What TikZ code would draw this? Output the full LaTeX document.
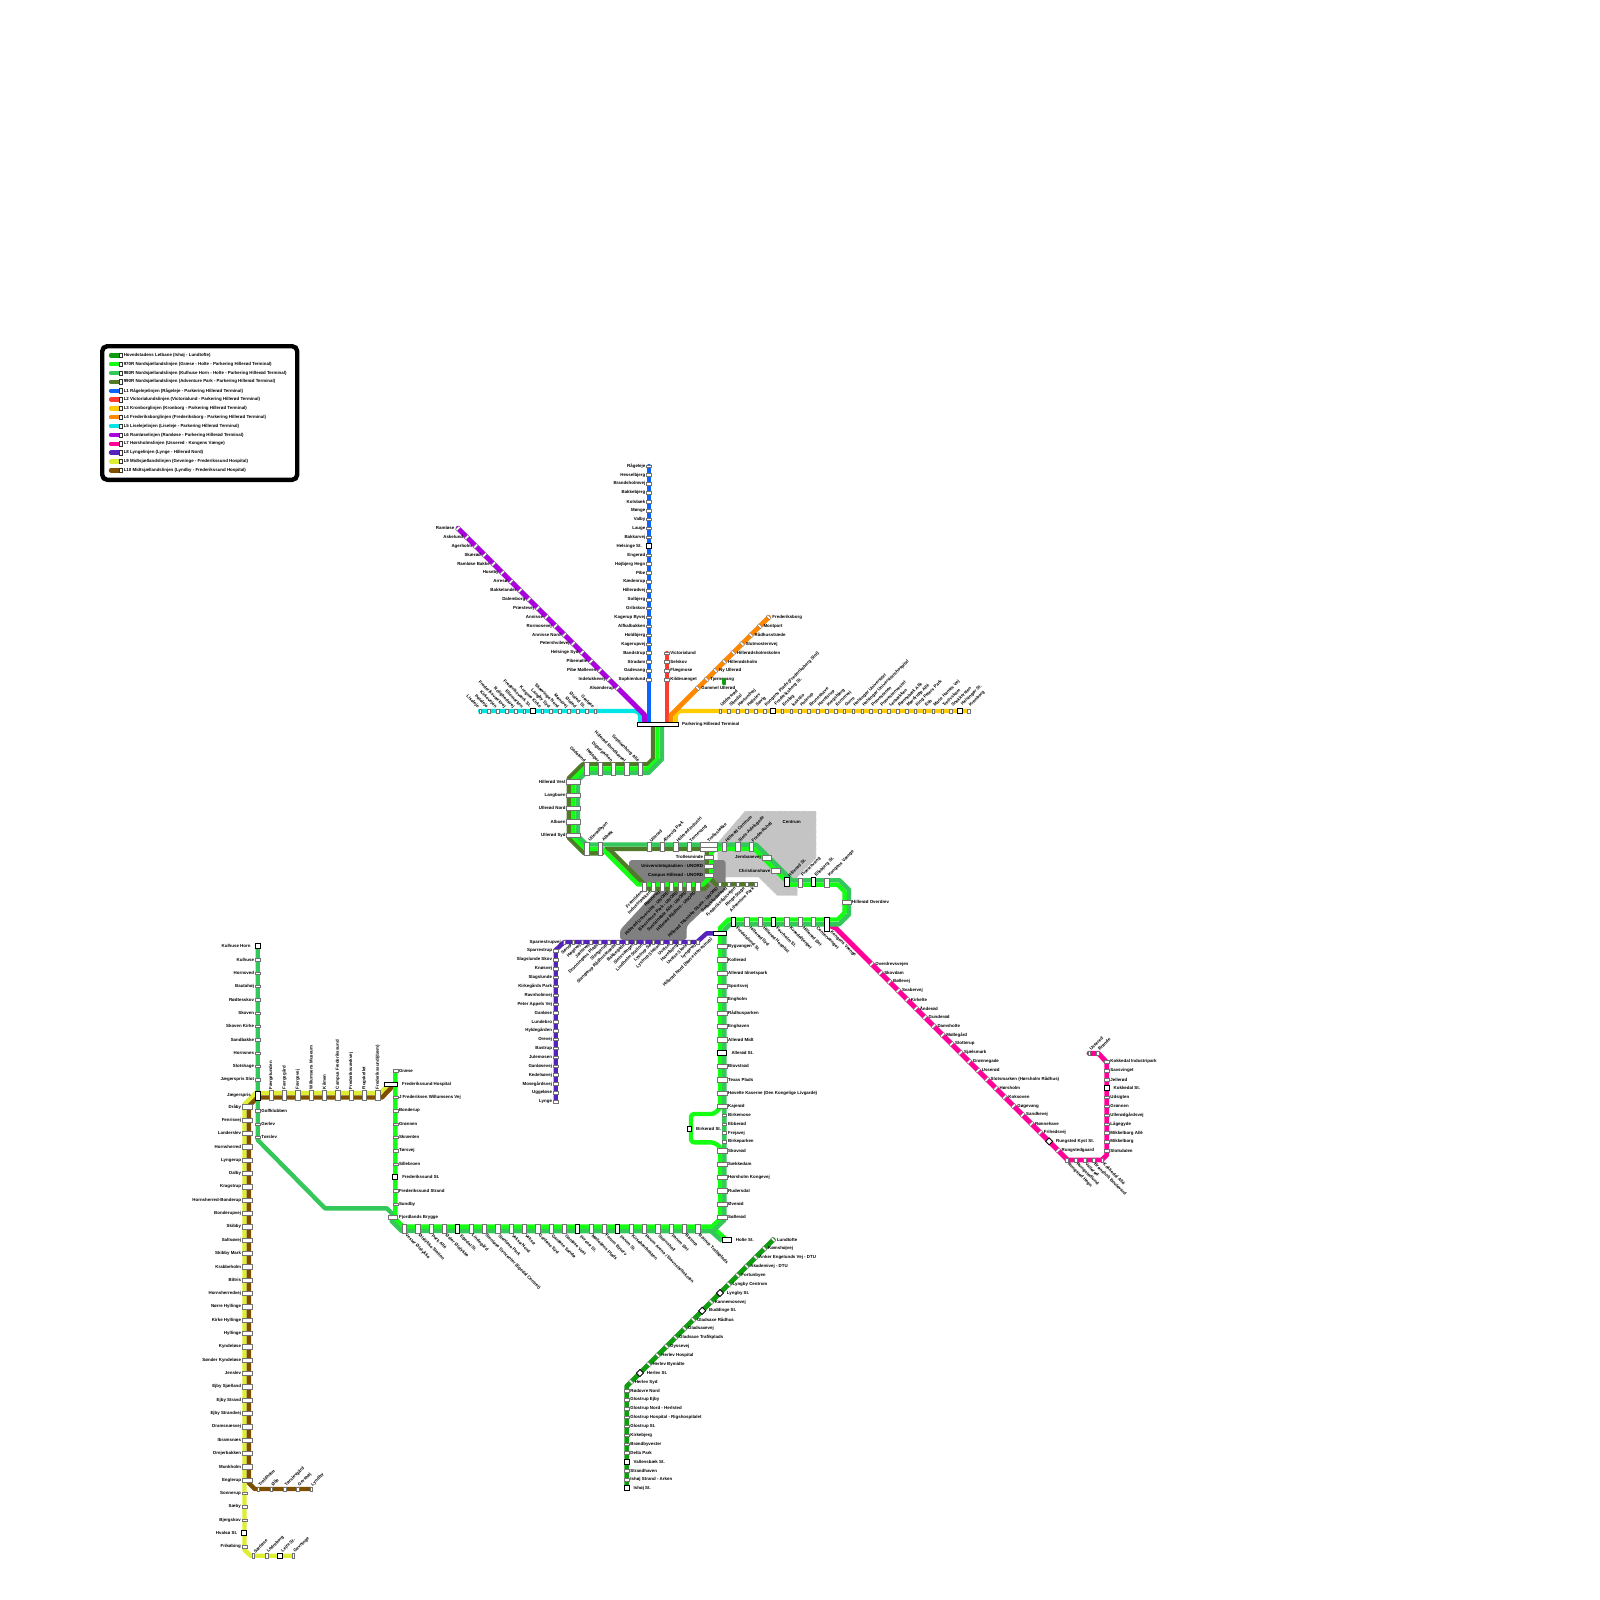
\documentclass[tikz,border=0pt]{standalone}
\usepackage{fontspec}
\setmainfont{Liberation Sans}
\usetikzlibrary{calc}
\definecolor{cLet}{HTML}{0F9D0F}
\definecolor{cBr}{HTML}{14FF14}
\definecolor{cMe}{HTML}{34C759}
\definecolor{cOl}{HTML}{4F7A28}
\definecolor{cLa}{HTML}{0A64FF}
\definecolor{cLb}{HTML}{FF3B30}
\definecolor{cLc}{HTML}{FFCC00}
\definecolor{cLd}{HTML}{FF8800}
\definecolor{cLe}{HTML}{00E5E5}
\definecolor{cLf}{HTML}{AA00DD}
\definecolor{cLg}{HTML}{FF0099}
\definecolor{cLh}{HTML}{5522BB}
\definecolor{cLi}{HTML}{DDEE33}
\definecolor{cLj}{HTML}{7F4F00}
\newcommand{\lbl}{\fontsize{4.4}{5}\selectfont\bfseries}
\newcommand{\rowcfg}[4]{\tikzset{rowstop/.style={#1},rowic/.style={#2},rowlab/.style={#3},rowilab/.style={#4}}}
\makeatletter
\newcommand{\stoprow}[7]{%
 \foreach \nm [count=\ri from 0] in {#7}{%
  \edef\rs@t{\noexpand\in@{,\ri,}{,#6,}}\rs@t
  \ifin@
   \node[icb,rowic] (#1-\ri) at ({#2+\ri*(#4)},{#3+\ri*(#5)}) {};
   \node[lab,rowilab] (#1-\ri-l) at (#1-\ri.center) {\nm};
  \else
   \node[stopb,rowstop] (#1-\ri) at ({#2+\ri*(#4)},{#3+\ri*(#5)}) {};
   \node[lab,rowlab] (#1-\ri-l) at (#1-\ri.center) {\nm};
  \fi}}
\makeatother
\pgfdeclarelayer{greyl}\pgfdeclarelayer{linel}
\pgfsetlayers{greyl,linel,main}
\tikzset{
 stopb/.style={rectangle,draw=black!55,fill=white,line width=.35,inner sep=0},
 icb/.style={rectangle,draw=black,fill=white,line width=.9,inner sep=0},
 lab/.style={font=\lbl,inner sep=0,text=black},
 ln/.style={line width=4.4,line cap=round,line join=round},
 lnd/.style={line width=4.9,line cap=round,line join=round},
 vthin/.style={minimum width=4.8,minimum height=2.5},
 hthin/.style={minimum width=2.6,minimum height=4.6},
 dup/.style={rotate=45,minimum width=4.9,minimum height=2.1},
 ddn/.style={rotate=-45,minimum width=4.9,minimum height=2.1},
 sq/.style={minimum width=5,minimum height=5},
 sqd/.style={rotate=45,minimum width=5,minimum height=5},
 hwide/.style={minimum width=9.4,minimum height=4.4},
 vwide/.style={minimum width=4.4,minimum height=9},
 vtw/.style={minimum width=4.4,minimum height=13.3},
 labL/.style={anchor=east,xshift=-3.5pt},
 labLi/.style={anchor=east,xshift=-7pt},
 labR/.style={anchor=west,xshift=3.5pt},
 labRi/.style={anchor=west,xshift=6.8pt},
 labLw/.style={anchor=east,xshift=-5.7pt},
 labRw/.style={anchor=west,xshift=6pt},
 labRwi/.style={anchor=west,xshift=9.3pt},
}
\begin{document}
\begin{tikzpicture}[x=1pt,y=-1pt]
\useasboundingbox (0,0) rectangle (1600,1600);
\begin{pgfonlayer}{greyl}
\fill[white] (0,0) rectangle (1600,1600);
\end{pgfonlayer}
% legend
\draw[rounded corners=5,line width=4.4,draw=black,fill=white] (102.2,346.2) rectangle (297.2,479.8);
\foreach \c/\t [count=\n from 0] in {cLet/Hovedstadens Letbane (Ishøj - Lundtofte),
cBr/970R Nordsjællandslinjen (Græse - Holte - Parkering Hillerød Terminal),
cMe/980R Nordsjællandslinjen (Kulhuse Horn - Holte - Parkering Hillerød Terminal),
cOl/990R Nordsjællandslinjen (Adventure Park - Parkering Hillerød Terminal),
cLa/L1 Rågelejelinjen (Rågeleje - Parkering Hillerød Terminal),
cLb/L2 Victorialundslinjen (Victorialund - Parkering Hillerød Terminal),
cLc/L3 Kronborglinjen (Kronborg - Parkering Hillerød Terminal),
cLd/L4 Frederiksborglinjen (Frederiksborg - Parkering Hillerød Terminal),
cLe/L5 Liselejelinjen (Liseleje - Parkering Hillerød Terminal),
cLf/L6 Ramløselinjen (Ramløse - Parkering Hillerød Terminal),
cLg/L7 Hørsholmslinjen (Ussered - Kongens Vænge),
cLh/L8 Lyngelinjen (Lynge - Hillerød Nord),
cLi/L9 Midtsjællandslinjen (Gevninge - Frederikssund Hospital),
cLj/L10 Midtsjællandslinjen (Lyndby - Frederikssund Hospital)}{
 \draw[ln,draw=\c] (111,{355.3+\n*8.85}) -- (120,{355.3+\n*8.85});
 \node[stopb,draw=black!80,line width=.5,minimum width=2.8,minimum height=4.4] (lgs-\n) at (120.4,{355.3+\n*8.85}) {};
 \node[lab,anchor=west] (lgt-\n) at (123.6,{355.3+\n*8.85}) {\t};
}
% terminal
\node[icb,line width=.7,minimum width=40.7,minimum height=4.7] (term) at (657.7,724.3) {};
\node[lab,anchor=west] (terml) at (682,724.3) {Parkering Hillerød Terminal};
\coordinate (tA) at (649,724);\coordinate (tB) at (666.7,724);\coordinate (tC) at (675.7,724);
\coordinate (tD) at (671,724);\coordinate (tE) at (640.2,724);\coordinate (tF) at (644.6,724);
\coordinate (tOl) at (653,726);\coordinate (tBr) at (657.5,726);\coordinate (tMe) at (662,726);
% L1
\rowcfg{vthin}{sq}{labL}{labLi}
\stoprow{La}{649}{466}{0}{8.9}{9}{Rågeleje,Hesselbjerg,Brandsholmvej,Bakkebjerg,Kolsbæk,Mønge,Valby,Lauge,Bakkarvej,Helsinge St.,Engerød,Højbjerg Hegn,Pibe,Kædenrup,Hillerødvej,Solbjerg,Gribskov,Kagerup Byvej,Alfkalbakken,Holdbjerg,Kagerupvej,Bandstrup,Stradam,Gadevang,Sophienlund}
% L2
\rowcfg{vthin}{sq}{labR}{labRi}
\stoprow{Lb}{666.7}{653}{0}{8.87}{}{Victorialund,Selskov,Flægmose,Kildesænget}
% L3
\rowcfg{hthin}{sq}{xshift=1pt,yshift=5pt,rotate=45,anchor=west}{xshift=2pt,yshift=6pt,rotate=45,anchor=west}
\stoprow{Lc}{720}{711}{8.88}{0}{6,27}{Uddersrød,Slimdal,Hørlundvej,Hallelev,Søvig,Kongens Plads (Frederiksberg Slot),Frederiksborg St.,Ensløg,Isakslio,Hulerup,Bruneshave,Havelsrup,Kregsbjerg,Esromvej,Gurre,Helsingør Universitet,Helsingør Universitetshospital,Prøvestenen,Prøvestenvestet,Lerbækken,Rønnebæk Allé,Mørdrupp Allé,King Peters Park,Esb,Marie Hansts Vej,Tretlvskam,Snekkersten,Helsingør St.,Kronborg}
% L4
\rowcfg{ddn}{sq}{labR}{labRi}
\stoprow{Ld}{768.7}{617.3}{-8.87}{8.87}{}{Frederiksborg,Montport,Rådhusstræde,Slutmosternvej,Hillerødsholmskolen,Hillerødsholm,Ny Ullerød,Tjørnevang,Gammel Ullerød}
\node[fill=cLet,rounded corners=1,inner sep=0,minimum width=3.6,minimum height=7] (blob) at (724,681.7) {};
% L5
\rowcfg{hthin}{sq}{xshift=-1.5pt,yshift=3.5pt,rotate=-45,anchor=east}{xshift=-2.5pt,yshift=4.5pt,rotate=-45,anchor=east}
\stoprow{Le}{480}{711}{8.87}{0}{6}{Liseleje,Pøleleje,Kirkevejen,Frederiksværkvej,Rolighedsvej,Ellemarken,Frederiksværk St.,Kregme Kirke,Langby Syd,Skævinge Nord,Mønsvej,Ølsted,Ølsted St.,Gørløse}
% L6
\rowcfg{dup}{sq}{labL}{labLi}
\stoprow{Lf}{458}{528.3}{8.87}{8.87}{}{Ramløse,Askelund,Agerholm,Skærød,Ramløse Bakke,Huseby,Arresø,Bakkelandet,Dalemborg,Præstevej,Annisse,Rormosevej,Annisse Nord,Petershvilevej,Helsinge Syd,Pibemølle,Pibe Mølleves,Indelukkevej,Alsønderup}
% trunk
\rowcfg{vtw}{vtw}{xshift=-1.5pt,yshift=7pt,rotate=-45,anchor=east}{xshift=-1.5pt,yshift=7pt,rotate=-45,anchor=east}
\stoprow{Ta}{586.7}{768.6}{13.33}{0}{}{Gadelund,Højager,Digterparken,Hillerød Rundkørsel,Sophienborg Allé}
\rowcfg{minimum width=13.3,minimum height=4.4}{sq}{anchor=east,xshift=-7.5pt}{labLi}
\stoprow{Tb}{573.3}{781.7}{0}{13.33}{}{Hillerød Vest,Langbuen,Ullerød Nord,Albuen,Ullerød Syd}
\rowcfg{vtw}{sq}{xshift=2.5pt,yshift=8pt,rotate=45,anchor=west}{labLi}
\stoprow{Tc}{586.7}{849}{13.33}{0}{}{Ullerødbyen,Albæk}
\rowcfg{minimum width=4.4,minimum height=8.7}{sq}{xshift=1.5pt,yshift=5pt,rotate=45,anchor=west}{labLi}
\stoprow{Td}{649}{846.7}{13.33}{0}{}{Ullerød,Ærtevig Park,Hillerød Industri,Tornevang}
\node[stopb,minimum width=17.7,minimum height=4.4] (tr1) at (708.8,844.5) {};
\node[stopb,minimum width=17.7,minimum height=4.4] (tr2) at (708.8,848.9) {};
\node[lab,xshift=-1pt,yshift=5pt,rotate=45,anchor=west] (trl) at (708.8,846.7) {Trollesløkke};
\stoprow{Te}{724.3}{846.8}{13.33}{0}{}{Hillerød Centrum,Slots-Adelsgade,Frederikshøj}
\rowcfg{minimum width=8.9,minimum height=4.4}{sq}{anchor=east,xshift=-5.7pt}{labLi}
\stoprow{Tf}{709}{857.3}{0}{9}{}{Trollesminde,Universitetspladsen - UNORD,Campus Hillerød - UNORD}
\rowcfg{minimum width=4.4,minimum height=8.7}{sq}{xshift=-2.6pt,yshift=-5pt,rotate=45,anchor=east}{labLi}
\stoprow{Tg}{644.3}{886.7}{8.9}{0}{}{Fremtiden,Industriparken,Rønnevej,Hillerød Universitet - UNORD,Bioscience Park - UNORD,Sustainable Allé - UNORD,Hillerød Rådhus - UNORD}
\rowcfg{minimum width=2.7,minimum height=4.4}{sq}{xshift=-2.5pt,yshift=-3.5pt,rotate=45,anchor=east}{labLi}
\stoprow{Th}{720}{884.3}{8.97}{0}{}{Hillerød Tekniske Skole - UNORD,Solbakkedalsvej,Frederiksdalsvejen,Ringe Stage,Adventure Park}
\node[stopb,minimum width=9.3,minimum height=4.4] (jb) at (766.7,857.7) {};
\node[lab,anchor=east] (jbl) at (761,857.7) {Jernbanevej};
\node[stopb,minimum width=9.3,minimum height=4.4] (ch) at (775.7,870.7) {};
\node[lab,anchor=east] (chl) at (770.5,870.7) {Christianshave};
\rowcfg{vwide}{vwide,line width=.8}{xshift=2pt,yshift=6pt,rotate=45,anchor=west}{xshift=2pt,yshift=6pt,rotate=45,anchor=west}
\stoprow{Ti}{786.7}{882.2}{13.33}{0}{0,2}{Hillerød St.,Præstevang,Ellebjerg St.,Kongens Vænge}
\node[stopb,minimum width=8.9,minimum height=4.4] (ho) at (846.7,902) {};
\node[lab,anchor=west] (hol) at (852,902) {Hillerød Overdrev};
\rowcfg{minimum width=4.4,minimum height=9.3}{minimum width=4.4,minimum height=9.3,line width=.8}{xshift=3.5pt,yshift=-5.5pt,rotate=-45,anchor=west}{xshift=3.5pt,yshift=-5.5pt,rotate=-45,anchor=west}
\stoprow{Tj}{733.3}{922}{13.33}{0}{0,3}{Fredelslund St.,Hillerød Syd,Hillerød Hospital,Favrholm St.,Kvædebjerget,Hillerød Øst,Centervænget}
\node[icb,line width=.8,minimum width=4.4,minimum height=13.7] (kv) at (826.7,924.2) {};
\node[lab,xshift=4pt,yshift=-7pt,rotate=-45,anchor=west] (kvl) at (826.7,924.2) {Kongens Vænge};
\node[icb,line width=.8,minimum width=13.4,minimum height=4.7] (hn) at (720,933.3) {};
\node[lab,rotate=45,anchor=east] (hnl) at (711.7,938.3) {Hillerød Nord (Nørre Herrestrup)};
% column
\rowcfg{hwide}{hwide,line width=.8}{labRw}{labRwi}
\stoprow{Ca}{722}{946.3}{0}{13.33}{8}{Bygvangen,Kollerød,Allerød Idrætspark,Sportsvej,Engholm,Rådhusparken,Enghaven,Allerød Midt,Allerød St.,Blovstrød,Texas Plads,Høvelte Kaserne (Den Kongelige Livgarde),Kajerød}
\rowcfg{minimum width=4.4,minimum height=2.6}{sq}{anchor=west,xshift=3.6pt}{labRi}
\stoprow{Cb}{724.4}{1115.3}{0}{8.8}{}{Birkemose,Ebberød,Frejavej,Birkeparken}
\node[icb,minimum width=4.6,minimum height=4.6] (bk) at (689.5,1128.7) {};
\node[lab,anchor=west] (bkl) at (696,1128.7) {Birkerød St.};
\rowcfg{hwide}{hwide,line width=.8}{labRw}{labRwi}
\stoprow{Cc}{722}{1150.7}{0}{13.33}{}{Skovrød,Sækkedam,Hørsholm Kongevej,Rudersdal,Øverød,Søllerød}
\node[icb,line width=.7,minimum width=9,minimum height=4.4] (holte) at (726.7,1240) {};
\node[lab,anchor=west] (holtel) at (735.7,1240) {Holte St.};
% bottom row
\rowcfg{minimum width=4.4,minimum height=9}{minimum width=4.4,minimum height=9,line width=.8}{xshift=1.5pt,yshift=-6pt,rotate=-45,anchor=west}{xshift=3pt,yshift=-7pt,rotate=-45,anchor=west}
\stoprow{Ro}{404.3}{1228.8}{13.33}{0}{4,13,16}{Vester Ølstykke,Ølstykke Station,Park Allé,Øster Ølstykke,Egedal St.,Lindegård,Stenløse Syncenter (Egedal Centret),Stenløse Park,Veksø Nord,Veksø,Ganløse Syd,Ganløse Sandø,Ganløse Vest,Furesø St.,Mølleåens Plads,Farum Bytorv,Farum St.,Kirsebærbakken,Farum Arena / Stavnsholtskolen,Stavnsholt,Farum Øst,Bistrup,Bistrup Trafikplads}
% Graese
\rowcfg{vthin}{sq}{labR}{labRi}
\stoprow{Gr}{395.3}{1070.7}{0}{13.33}{}{Græse}
\node[icb,minimum width=13.4,minimum height=4.7] (fh) at (391,1084.3) {};
\node[lab,anchor=west] (fhl) at (402,1084.3) {Frederikssund Hospital};
\stoprow{Gs}{395.3}{1097.3}{0}{13.33}{6}{J Frederiksen Willumsens Vej,Bonderup,Grønnen,Skrænten,Tørsvej,Sillebroen,Frederikssund St.,Frederikssund Strand,Sundby}
\node[stopb,minimum width=9,minimum height=4.4] (fb) at (392.7,1217.3) {};
\node[lab,anchor=west] (fbl) at (399,1217.3) {Fjordlands Brygge};
% Kulhuse
\rowcfg{vthin}{sq}{labL}{labLi}
\stoprow{Ku}{257.7}{946.3}{0}{13.33}{0}{Kulhuse Horn,Kulhuse,Hornsved,Bautahøj,Rødtesskov,Skoven,Skoven Kirke,Sandbakke,Hornsnes,Slotshage,Jægerspris Slot}
\node[icb,minimum width=4.4,minimum height=8.4] (jp) at (257.8,1095.8) {};
\node[lab,anchor=east] (jpl) at (251,1095.8) {Jægerspris};
\rowcfg{vthin}{sq}{labR}{labRi}
\stoprow{Kv}{257.7}{1110.7}{0}{13.33}{}{Golfklubben,Gerlev,Tørslev}
% L9 L10
\rowcfg{minimum width=4.4,minimum height=9.3}{sq}{yshift=6pt,rotate=90,anchor=west}{labLi}
\stoprow{Mh}{271}{1095.3}{13.33}{0}{}{Færgelunden,Færgegård,Færgevej,Willumsens Museum,Kilmen,Campus Frederikssund,Frederiksværkvej,Rugskellet,Frederikssund(dæm)}
\rowcfg{hwide}{sq}{labLw}{labLi}
\stoprow{Mv}{247}{1106.7}{0}{13.33}{}{Dråby,Fenrisvej,Landerslev,Hornsherred,Lyngerup,Dalby,Kragstrup,Hornsherred-Bonderup,Bonderupvej,Skibby,Saltsøvej,Skibby Mark,Krabbeholm,Biltris,Hornsherredvej,Nørre Hyllinge,Kirke Hyllinge,Hyllinge,Kyndeløse,Sønder Kyndeløse,Jenslev,Ejby Sjælland,Ejby Strand,Ejby Strandvej,Dramsnæsvej,Ibramsnæs,Drejerbakken,Munkholm,Englerup}
\rowcfg{hthin}{sq}{xshift=1pt,yshift=3.5pt,rotate=45,anchor=west}{xshift=2pt,yshift=4pt,rotate=45,anchor=west}
\stoprow{Mt}{258}{1489}{13.25}{0}{}{Troldholm,Ølje,Tørslevgård,Gershøj,Lyndby}
\rowcfg{vthin}{sq}{labL}{labLi}
\stoprow{Na}{244.4}{1493.3}{0}{13.33}{3}{Sonnerup,Sæby,Bjergskov,Hvalsø St.,Frikøbing}
\rowcfg{hthin}{sq}{xshift=1pt,yshift=3.5pt,rotate=45,anchor=west}{xshift=2pt,yshift=4pt,rotate=45,anchor=west}
\stoprow{Nb}{253.3}{1555.7}{13.33}{0}{2}{Særløse,Ledreborg,Lejre St.,Gevninge}
% L8
\rowcfg{hthin}{sq}{anchor=east,xshift=-3.3pt}{labLi}
\stoprow{Pa}{564.3}{942}{8.87}{0}{}{Sparrestrupvej}
\rowcfg{hthin}{sq}{xshift=-2pt,yshift=-2.5pt,rotate=45,anchor=east}{labLi}
\stoprow{Pb}{573.2}{942}{8.87}{0}{}{Sørup,Høgevej,Jættevej,Dronningens Plads,Slangerup,Slangerup Rådhusstræde,Bakkegade,Slotsvænget,Lindholm Station,Lystrup Sø,Lystrup Station,Uvelse,Havelbjerg,Uvelse Skole,Lyngevej}
\rowcfg{vthin}{sq}{labL}{labLi}
\stoprow{Pc}{555.7}{950.7}{0}{8.87}{}{Sparrestrup,Slagslunde Skov,Knøsvej,Slagslunde,Kirkegårds Park,Ravnholmvej,Peter Appels Vej,Ganløse,Lundebro,Hyldegården,Orevej,Bastrup,Julemosen,Ganløsevej,Kedelsøvej,Mosegårdsvej,Uggeløse,Lynge}
% L7
\rowcfg{dup}{sqd}{labR}{labRi}
\stoprow{Qa}{871.7}{964}{8.87}{8.87}{20}{Overdrevsvejen,Skovdam,Bøllevej,Svabervej,Kirkelte,Ånderød,Gunderød,Damsholte,Møllegård,Slotterup,Sjælsmark,Grønnegade,Usserød,Slotsmarken (Hørsholm Rådhus),Hørsholm,Koksoven,Gøgevang,Sandkevej,Rønnehave,Frihedsvej,Rungsted Kyst St.,Rungstedgaard}
\rowcfg{hthin}{sq}{xshift=1.5pt,yshift=-3.5pt,rotate=-45,anchor=west}{labLi}
\stoprow{Qb}{1066.7}{1160}{8.9}{0}{}{Rungsted Hegn,Rungstedlund,Vallerød,Brønsholt Boulevard,Kokkedal Allé}
\rowcfg{vthin}{sq}{labR}{labRi}
\stoprow{Qc}{1106.7}{1061.7}{0}{8.9}{3}{Kokkedal Industripark,Savsvinget,Jellerød,Kokkedal St.,Udsigten,Grønnen,Ullerødgårdsvej,Lågegyde,Mikkelborg Allé,Mikkelborg,Slotsdalen}
\rowcfg{hthin}{sq}{xshift=1pt,yshift=3.5pt,rotate=45,anchor=west}{labLi}
\stoprow{Qd}{1089}{1053.3}{8.7}{0}{}{Ussered,Brønde}
% Letbane
\rowcfg{ddn}{sqd}{labR}{labRi}
\stoprow{Ra}{773.3}{1239.7}{-8.89}{8.89}{6,8,15}{Lundtofte,Kømshøjvej,Anker Engelunds Vej - DTU,Akademivej - DTU,Fortunbyen,Lyngby Centrum,Lyngby St.,Kannemosevej,Buddinge St.,Gladsaxe Rådhus,Gladsaxevej,Gladsaxe Trafikplads,Dyssevej,Herlev Hospital,Herlev Bymidte,Herlev St.,Herlev Syd}
\rowcfg{vthin}{sq}{labR}{labRi}
\stoprow{Rb}{626.7}{1390.7}{0}{8.88}{8,11}{Rødovre Nord,Glostrup Ejby,Glostrup Nord - Herlsted,Glostrup Hospital - Rigshospitalet,Glostrup St.,Kirkebjerg,Brøndbyvester,Delta Park,Vallensbæk St.,Strandhaven,Ishøj Strand - Arken,Ishøj St.}
% grey zones
\node[lab,anchor=center] (cent) at (791.7,821.7) {Centrum};
\begin{pgfonlayer}{greyl}
\path[fill=black!23,draw=black!12,dashed,line width=.5] (745,811) -- (816,811) -- (816,858.3) -- (797.3,877.3) -- (797.3,895.7) -- (777.3,895.7) -- (758.3,877) -- (717.7,877) -- (717.7,842.7) -- cycle;
\path[fill=black!50,rounded corners=3] (629,860) -- (725.7,860) -- (725.7,889) -- (686.7,926) -- (686.7,940) -- (620,940) -- (620,930) -- (657,890) -- (644,888) -- (629,873) -- cycle;
\end{pgfonlayer}
% lines
\begin{pgfonlayer}{linel}
\draw[ln,cLa] (La-0.center) -- (tA);
\draw[ln,cLb] (Lb-0.center) -- (tB);
\draw[ln,cLc,rounded corners=5] (tC) -- (675.7,711) -- (Lc-28.center);
\draw[lnd,cLd] (Ld-0.center) -- (671,715) -- (tD);
\draw[ln,cLe,rounded corners=5] (Le-0.center) -- (640.2,711) -- (tE);
\draw[lnd,cLf] (Lf-0.center) -- (644.6,714.9) -- (tF);
\draw[lnd,cLg] (kv.center) -- (836,928.3) -- (1067.7,1160) -- (1101.7,1160) -- (1106.7,1155) -- (1106.7,1062.3) -- (1098.3,1053.3) -- (Qd-0.center);
\draw[ln,cLh] (hn.center) -- (706.7,933.3) -- (697,942) -- (Pa-0.center) -- (555.7,950) -- (Pc-17.center);
\draw[lnd,cLet] (Ra-0.center) -- (626.7,1386.3) -- (Rb-11.center);
\draw[ln,cLi] (fh.center) -- (388,1085.5) -- (380,1093) -- (255.7,1093) -- (244.5,1104.2) -- (244.5,1550) -- (250.7,1555.7) -- (Nb-3.center);
\draw[ln,cLj] (fh.center) -- (393,1086) -- (382,1097.5) -- (257.5,1097.5) -- (248.8,1106.2) -- (248.8,1483) -- (254.8,1489) -- (Mt-4.center);
% 990R
\draw[ln,cOl,line cap=butt] (tOl) -- (653,759) -- (647.8,764.2) -- (582.9,764.2) -- (568.8,778.2) -- (568.8,837.7) -- (584.4,853.3) -- (602,853.3) -- (606.4,848.9) -- (706.8,848.9) -- (706.8,875) -- (716,884.3) -- (Th-4.center);
\draw[ln,cOl,line cap=butt] (608.9,848.9) -- (649,889) -- (704,889) -- (708.7,884.3);
% 970R
\draw[ln,cBr,line cap=butt] (tBr) -- (657.5,759.1) -- (648,768.6) -- (584.2,768.6) -- (573.3,779.5) -- (573.3,836.8) -- (585.4,848.9) -- (602.4,848.9) -- (638,884.5) -- (703,884.5) -- (711.2,876.3) -- (711.2,853) -- (715,849) -- (754.2,849) -- (789.8,884.6) -- (837.7,884.6) -- (844.6,891.5) -- (844.6,912.6) -- (837.7,919.5) -- (728.5,919.5) -- (720,928) -- (720,1108);
\draw[ln,cBr,rounded corners=3] (720,1108) -- (714,1114) -- (691,1114) -- (691,1142.3) -- (714,1142.3) -- (720,1147);
\draw[ln,cBr,line cap=butt] (720,1147) -- (720,1219) -- (712,1226.6) -- (403.2,1226.6) -- (395.3,1218.7) -- (Gr-0.center);
\draw[ln,cBr,line cap=butt] (712,1226.6) -- (holte.center);
% 980R
\draw[ln,cMe,line cap=butt] (tMe) -- (662,759.2) -- (648.4,772.8) -- (585.8,772.8) -- (577.8,780.8) -- (577.8,835.9) -- (586.4,844.5) -- (756,844.6) -- (791.6,880.2) -- (839.5,880.2) -- (849,889.7) -- (849,914.4) -- (839.1,924.3) -- (730.1,924.3) -- (724.4,930) -- (724.4,1220) -- (713,1231.2) -- (401.4,1231) -- (391.7,1221.3) -- (391.7,1213.3) -- (386.7,1208.3) -- (325,1208.3) -- (257.7,1140) -- (Ku-0.center);
\draw[ln,cMe,line cap=butt] (711,1231.2) -- (722,1241);
\end{pgfonlayer}
\end{tikzpicture}
\end{document}
